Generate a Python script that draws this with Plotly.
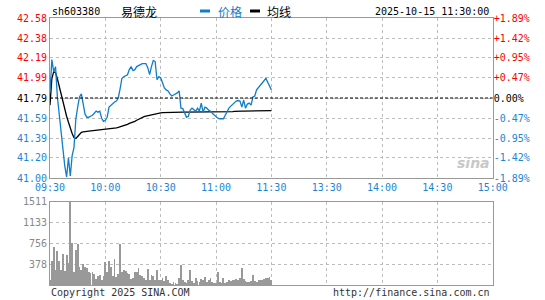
import plotly.graph_objects as go

SYMBOL = "sh603380"
NAME = "易德龙"
STAMP = "2025-10-15 11:30:00"
PREV_CLOSE = 41.79

PRICE = [41.85, 42.17, 42.05, 42.10, 41.80, 41.62, 41.45, 41.28, 41.12, 41.01,
         41.20, 41.02, 41.22, 41.30, 41.58, 41.70, 41.80, 41.83, 41.72, 41.63,
         41.60, 41.60, 41.61, 41.62, 41.64, 41.66, 41.65, 41.66, 41.59, 41.56,
         41.57, 41.60, 41.70, 41.72, 41.74, 41.75, 41.76, 41.79, 41.88, 41.985,
         42.00, 42.01, 42.02, 42.07, 42.10, 42.06, 42.07, 42.10, 42.11, 42.12,
         42.13, 42.13, 42.13, 42.09, 42.02, 42.10, 42.16, 42.15, 41.97, 42.00,
         41.99, 41.94, 41.89, 41.87, 41.86, 41.83, 41.81, 41.82, 41.83, 41.84,
         41.86, 41.69, 41.685, 41.65, 41.60, 41.61, 41.67, 41.69, 41.67, 41.66,
         41.69, 41.66, 41.74, 41.65, 41.70, 41.69, 41.67, 41.66, 41.64, 41.62,
         41.60, 41.59, 41.585, 41.585, 41.585, 41.62, 41.66, 41.69, 41.71, 41.73,
         41.75, 41.76, 41.765, 41.76, 41.70, 41.77, 41.69, 41.73, 41.74, 41.72,
         41.80, 41.81, 41.87, 41.89, 41.91, 41.93, 41.96, 41.985, 41.95, 41.90,
         41.87]

AVG = [41.72, 41.98, 42.05, 42.04, 41.98, 41.90, 41.83, 41.76, 41.68, 41.61,
       41.55, 41.49, 41.44, 41.40, 41.39, 41.41, 41.43, 41.45, 41.455, 41.46,
       41.46, 41.462, 41.464, 41.466, 41.468, 41.47, 41.472, 41.474, 41.475, 41.476,
       41.478, 41.48, 41.482, 41.485, 41.488, 41.49, 41.495, 41.50, 41.505, 41.51,
       41.52, 41.525, 41.53, 41.54, 41.545, 41.55, 41.56, 41.57, 41.58, 41.59,
       41.60, 41.605, 41.61, 41.615, 41.62, 41.625, 41.63, 41.635, 41.64, 41.642,
       41.644, 41.645, 41.646, 41.647, 41.648, 41.65, 41.65, 41.65, 41.65, 41.65,
       41.65, 41.65, 41.65, 41.65, 41.65, 41.65, 41.65, 41.65, 41.65, 41.65,
       41.65, 41.65, 41.65, 41.65, 41.65, 41.65, 41.65, 41.65, 41.65, 41.65,
       41.65, 41.65, 41.65, 41.65, 41.65, 41.65, 41.65, 41.652, 41.654, 41.656,
       41.658, 41.66, 41.66, 41.66, 41.66, 41.66, 41.66, 41.66, 41.66, 41.66,
       41.661, 41.662, 41.662, 41.663, 41.663, 41.664, 41.664, 41.665, 41.665, 41.665,
       41.665]

VOLUME = [90, 440, 695, 270, 617, 435, 270, 575, 254, 545,
          400, 1511, 767, 242, 647, 756, 333, 272, 393, 333,
          320, 242, 230, 242, 212, 121, 160, 193, 103, 175,
          417, 250, 441, 333, 160, 484, 151, 200, 756, 242,
          272, 255, 230, 210, 121, 130, 242, 242, 320, 181,
          163, 139, 103, 290, 91, 181, 163, 103, 272, 103,
          91, 139, 79, 163, 103, 45, 30, 60, 42, 30,
          139, 375, 91, 60, 50, 103, 272, 79, 42, 139,
          79, 60, 121, 103, 151, 60, 103, 139, 55, 42,
          42, 242, 60, 42, 139, 42, 60, 91, 79, 103,
          91, 121, 91, 139, 320, 121, 79, 60, 60, 79,
          181, 79, 60, 91, 91, 103, 121, 139, 139, 151,
          91]

X_TICK_LABELS = ["09:30", "10:00", "10:30", "11:00", "11:30",
                 "13:30", "14:00", "14:30", "15:00"]
PRICE_TICKS = [42.58, 42.38, 42.19, 41.99, 41.79, 41.59, 41.39, 41.20, 41.00]
PCT_TICKS = ["+1.89%", "+1.42%", "+0.95%", "+0.47%", "0.00%",
             "-0.47%", "-0.95%", "-1.42%", "-1.89%"]
VOL_TICKS = [378, 756, 1133, 1511]

BLUE = "#0f7dc8"
LBLUE = "#1c86d6"
RED = "#ff0000"
GRAY = "#999999"
GRID = "#bdbdbd"
FONT = "DejaVu Sans Mono"

minutes = list(range(len(PRICE)))
xticks = [i * 30 for i in range(len(X_TICK_LABELS))]


def tick_color(v):
    if v > PREV_CLOSE + 1e-9:
        return RED
    if v < PREV_CLOSE - 1e-9:
        return LBLUE
    return "#000000"


left_text = ['<span style="color:%s">%.2f</span>' % (tick_color(v), v) for v in PRICE_TICKS]
right_text = ['<span style="color:%s">%s</span>' % (tick_color(v), t) for v, t in zip(PRICE_TICKS, PCT_TICKS)]

fig = go.Figure()
fig.add_trace(go.Scatter(x=minutes, y=AVG, mode="lines", line=dict(color="#000000", width=1.3),
                         xaxis="x", yaxis="y", showlegend=False))
fig.add_trace(go.Scatter(x=minutes, y=PRICE, mode="lines", line=dict(color=BLUE, width=1.3),
                         xaxis="x", yaxis="y", showlegend=False))
fig.add_trace(go.Bar(x=minutes, y=VOLUME, marker=dict(color=GRAY, line=dict(width=0)),
                     width=0.45, xaxis="x2", yaxis="y3", showlegend=False))
# invisible trace to activate the right axis
fig.add_trace(go.Scatter(x=[0], y=[PREV_CLOSE], mode="markers", marker=dict(opacity=0),
                         xaxis="x", yaxis="y2", showlegend=False, hoverinfo="skip"))

x0, x1 = 50 / 545, 492.7 / 545
axis_common = dict(showline=True, linecolor=GRAY, linewidth=1, mirror=True, automargin=False,
                   gridcolor=GRID, griddash="dot", gridwidth=1, zeroline=False, ticks="")

fig.update_layout(
    template="none",
    width=545, height=300, autosize=False,
    margin=dict(l=0, r=0, t=0, b=0, pad=0),
    paper_bgcolor="white", plot_bgcolor="white",
    font=dict(family=FONT, size=10, color="#000000"),
    bargap=0,
    xaxis=dict(domain=[x0, x1], range=[0, 240], tickvals=xticks, ticktext=X_TICK_LABELS,
               tickfont=dict(color=LBLUE, size=10, family=FONT), anchor="y", **axis_common),
    yaxis=dict(domain=[1 - 178 / 300, 1 - 18 / 300], range=[PRICE_TICKS[-1], PRICE_TICKS[0]],
               tickvals=PRICE_TICKS, ticktext=left_text, anchor="x",
               tickfont=dict(size=10, family=FONT), **axis_common),
    yaxis2=dict(overlaying="y", side="right", range=[PRICE_TICKS[-1], PRICE_TICKS[0]],
                tickvals=PRICE_TICKS, ticktext=right_text, showgrid=False, zeroline=False,
                automargin=False, tickfont=dict(size=10, family=FONT), anchor="x",
                ticks="", showline=False),
    xaxis2=dict(domain=[x0, x1], range=[0, 240], tickvals=xticks, showticklabels=False,
                anchor="y3", **axis_common),
    yaxis3=dict(domain=[1 - 285 / 300, 1 - 201.7 / 300], range=[0, VOL_TICKS[-1]],
                tickvals=VOL_TICKS, ticktext=[str(v) for v in VOL_TICKS], anchor="x2",
                tickfont=dict(size=10, family=FONT, color="#888888"), **axis_common),
)

# previous-close reference line
fig.add_shape(type="line", xref="x domain", yref="y", x0=0, x1=1, y0=PREV_CLOSE, y1=PREV_CLOSE,
              line=dict(color="#000000", width=1, dash="3px,2px"))

# header
fig.add_annotation(xref="paper", yref="paper", x=50 / 545, y=1 - 11.5 / 300, text=SYMBOL,
                   showarrow=False, xanchor="left", yanchor="middle",
                   font=dict(family=FONT, size=10, color="#000000"))
fig.add_annotation(xref="paper", yref="paper", x=119 / 545, y=1 - 11.5 / 300, text=NAME,
                   showarrow=False, xanchor="left", yanchor="middle",
                   font=dict(family="Noto Sans CJK SC", size=12, color="#000000"))
fig.add_shape(type="line", xref="paper", yref="paper", x0=200 / 545, x1=210 / 545,
              y0=1 - 11 / 300, y1=1 - 11 / 300, line=dict(color=BLUE, width=3))
fig.add_annotation(xref="paper", yref="paper", x=216 / 545, y=1 - 11.5 / 300, text="价格",
                   showarrow=False, xanchor="left", yanchor="middle",
                   font=dict(family="Noto Sans CJK SC", size=12, color=BLUE))
fig.add_shape(type="line", xref="paper", yref="paper", x0=250 / 545, x1=260 / 545,
              y0=1 - 11 / 300, y1=1 - 11 / 300, line=dict(color="#000000", width=3))
fig.add_annotation(xref="paper", yref="paper", x=265 / 545, y=1 - 11.5 / 300, text="均线",
                   showarrow=False, xanchor="left", yanchor="middle",
                   font=dict(family="Noto Sans CJK SC", size=12, color="#000000"))
fig.add_annotation(xref="paper", yref="paper", x=491 / 545, y=1 - 11.5 / 300, text=STAMP,
                   showarrow=False, xanchor="right", yanchor="middle",
                   font=dict(family=FONT, size=10, color="#000000"))

# footer
fig.add_annotation(xref="paper", yref="paper", x=49 / 545, y=1 - 292 / 300,
                   text="Copyright 2025 SINA.COM", showarrow=False, xanchor="left",
                   yanchor="middle", font=dict(family=FONT, size=10, color="#333333"))
fig.add_annotation(xref="paper", yref="paper", x=492 / 545, y=1 - 292 / 300,
                   text="http://finance.sina.com.cn", showarrow=False, xanchor="right",
                   yanchor="middle", font=dict(family=FONT, size=10, color="#333333"))

# watermark
fig.add_annotation(xref="paper", yref="paper", x=473 / 545, y=1 - 163 / 300,
                   text="<b><i>sina</i></b>", showarrow=False, xanchor="center",
                   yanchor="middle", font=dict(family="DejaVu Sans", size=14, color="#c8c8c8"))

fig.write_html("out.html")
